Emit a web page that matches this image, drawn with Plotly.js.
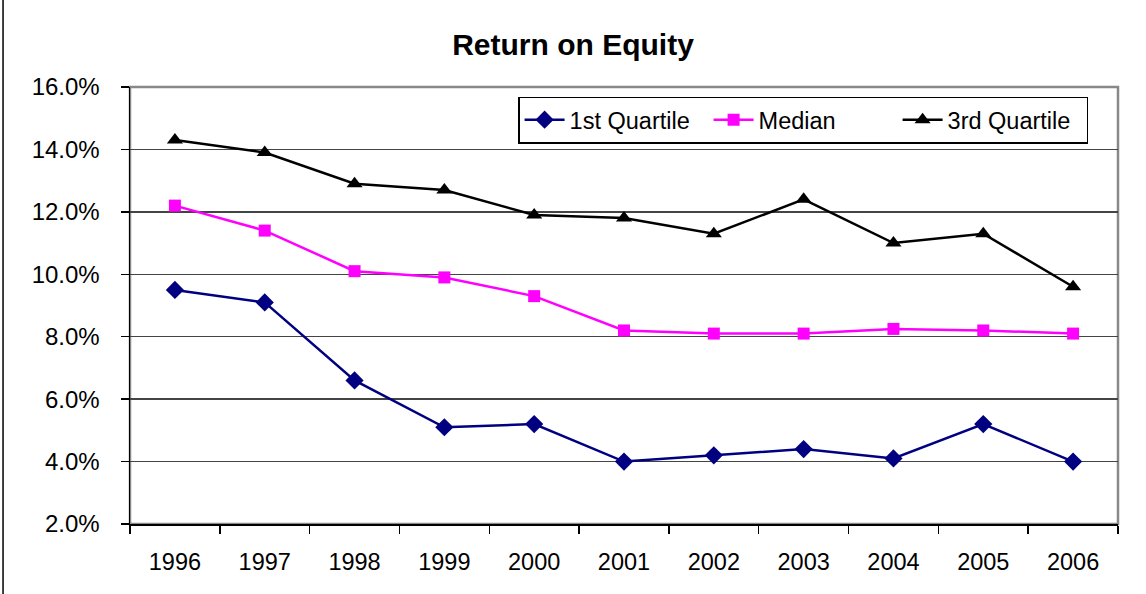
<!DOCTYPE html>
<html>
<head>
<meta charset="utf-8">
<script src="https://cdn.plot.ly/plotly-3.0.1.min.js"></script>
<style>html,body{margin:0;padding:0;background:#fff;}#chart{width:1146px;height:594px;}</style>
</head>
<body>
<div id="chart"></div>
<script>
const years = ["1996","1997","1998","1999","2000","2001","2002","2003","2004","2005","2006"];
const firstQuartile = [9.5, 9.1, 6.6, 5.1, 5.2, 4.0, 4.2, 4.4, 4.1, 5.2, 4.0];
const median = [12.2, 11.4, 10.1, 9.9, 9.3, 8.2, 8.1, 8.1, 8.25, 8.2, 8.1];
const thirdQuartile = [14.3, 13.9, 12.9, 12.7, 11.9, 11.8, 11.3, 12.4, 11.0, 11.3, 9.6];
const yTicks = [2, 4, 6, 8, 10, 12, 14, 16];

const font = "Liberation Sans, Arial, sans-serif";
const traces = [
  {x: years, y: firstQuartile, name: "1st Quartile", type: "scatter", mode: "lines+markers",
   line: {color: "#000080", width: 2.5}, marker: {symbol: "diamond", size: 14, color: "#000080"}},
  {x: years, y: median, name: "Median", type: "scatter", mode: "lines+markers",
   line: {color: "#FF00FF", width: 2.5}, marker: {symbol: "square", size: 12, color: "#FF00FF"}},
  {x: years, y: thirdQuartile, name: "3rd Quartile", type: "scatter", mode: "lines+markers",
   line: {color: "#000000", width: 2.5}, marker: {symbol: "triangle-up", size: 14, color: "#000000"}}
];
const layout = {
  width: 1146, height: 594,
  margin: {l: 130, r: 28, t: 87, b: 70},
  paper_bgcolor: "#fff", plot_bgcolor: "#fff",
  title: {text: "<b>Return on Equity</b>", font: {family: font, size: 30, color: "#000"}, x: 0.5, xanchor: "center", y: 0.925, yanchor: "middle"},
  showlegend: true,
  legend: {orientation: "h", x: 0.393, y: 0.978, xanchor: "left", yanchor: "top",
    bgcolor: "#fff", bordercolor: "#000", borderwidth: 1.3,
    font: {family: font, size: 23.5, color: "#000"}, itemwidth: 40, tracegroupgap: 0,
    entrywidth: 134, entrywidthmode: "pixels"},
  xaxis: {type: "category", range: [-0.5, 10.5], showgrid: false, showline: true, linecolor: "#000", linewidth: 1.5,
    ticks: "outside", tickson: "boundaries", ticklen: 8, tickcolor: "#000", tickwidth: 1.5, ticklabelstandoff: 16,
    tickfont: {family: font, size: 23.5, color: "#000"}, fixedrange: true, zeroline: false},
  yaxis: {range: [2, 16], tickvals: yTicks, ticktext: yTicks.map(v => v.toFixed(1) + "%"),
    showgrid: true, gridcolor: "#444", gridwidth: 1.3, showline: true, linecolor: "#000", linewidth: 1.5,
    ticks: "outside", ticklen: 8, tickcolor: "#000", tickwidth: 1.5, zeroline: false, ticklabelstandoff: 16,
    tickfont: {family: font, size: 24, color: "#000"}},
  shapes: [
    {type: "rect", xref: "paper", yref: "paper", x0: 0, x1: 1, y0: 0, y1: 1, line: {color: "#888", width: 2.5}, layer: "below"},
    {type: "line", xref: "paper", yref: "paper", x0: -0.1285, x1: -0.1285, y0: -0.16, y1: 1.2, line: {color: "#000", width: 1.5}}
  ]
};
Plotly.newPlot("chart", traces, layout, {staticPlot: true});
</script>
</body>
</html>
